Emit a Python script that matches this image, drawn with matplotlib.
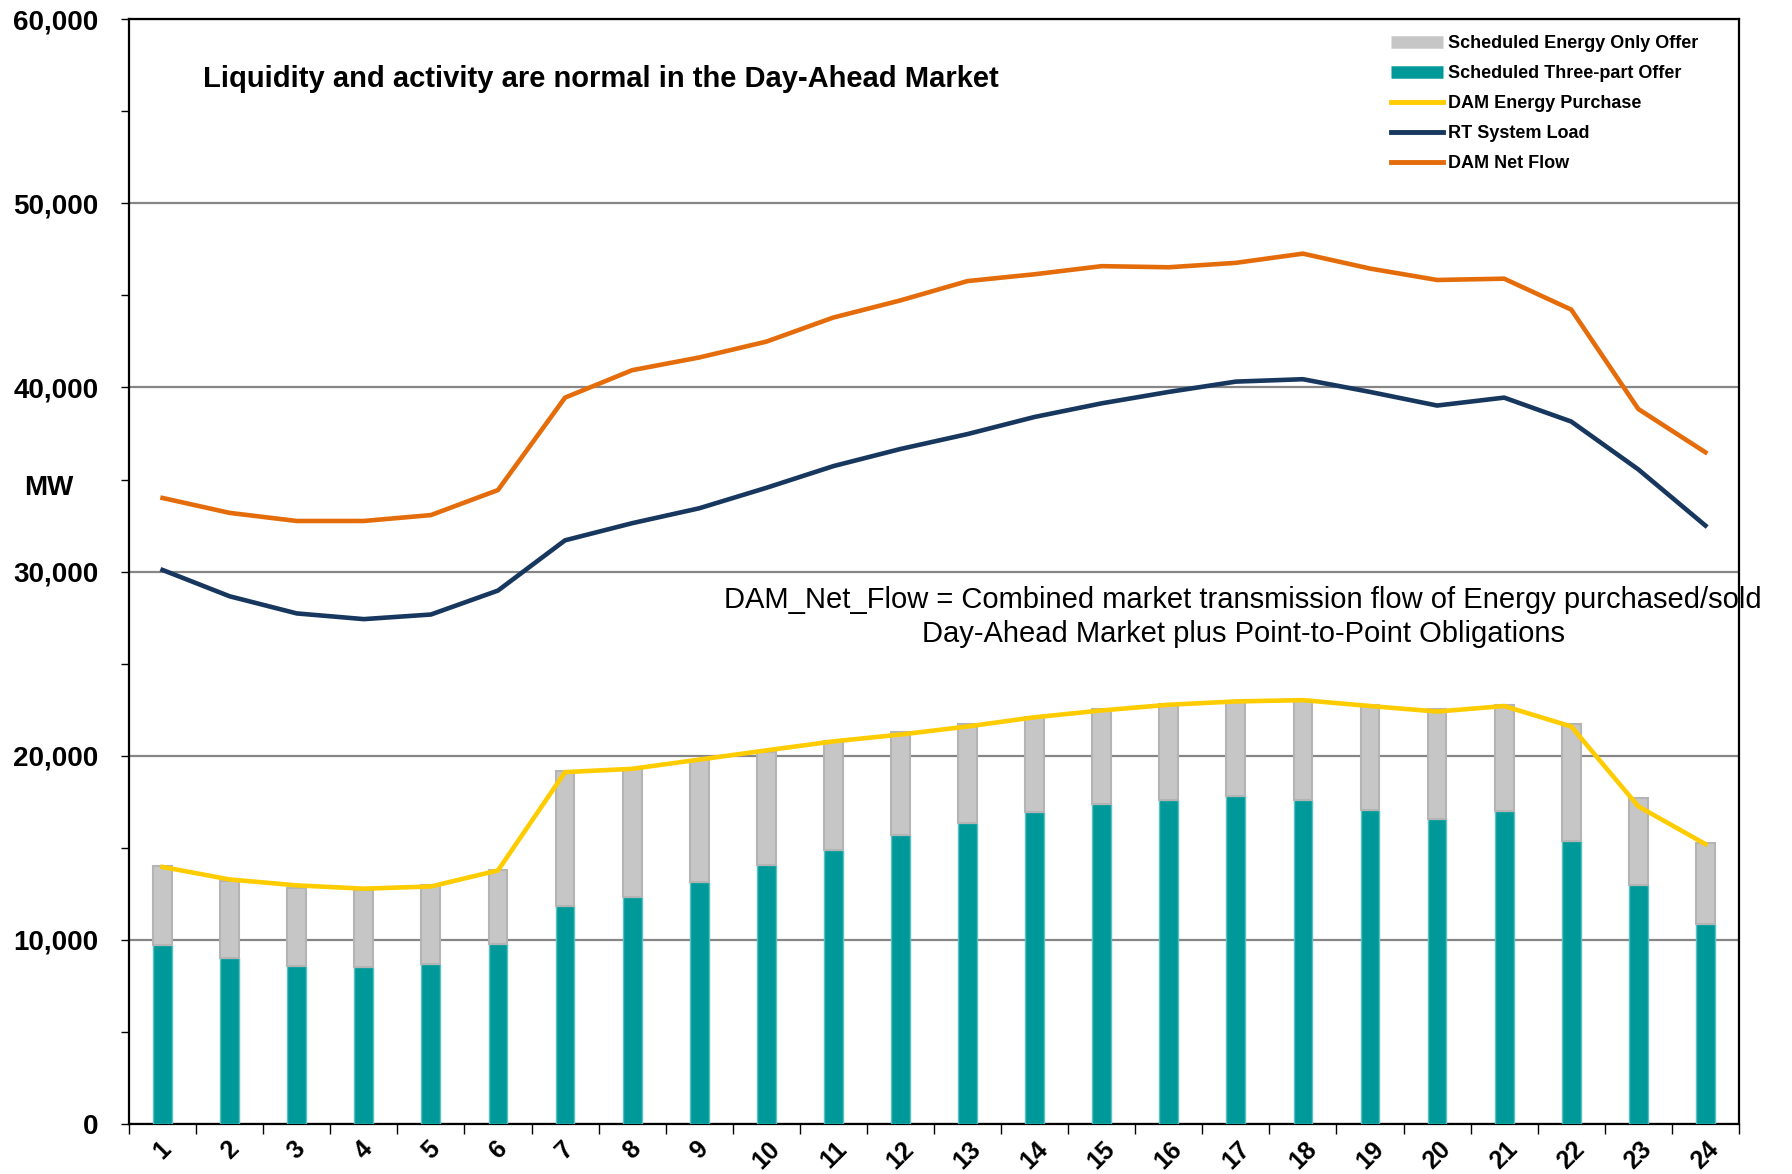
import numpy as np
import matplotlib.pyplot as plt
from matplotlib.lines import Line2D
from matplotlib.ticker import FuncFormatter, MultipleLocator

plt.rcParams['font.family'] = ['Liberation Sans', 'DejaVu Sans']

# Hour ending 1..24
hours = np.arange(1, 25)

# Scheduled offers (MW), stacked bars
three_part = [9740, 9000, 8560, 8500, 8690, 9800, 11850, 12350, 13150, 14080, 14890, 15700,
              16320, 16940, 17370, 17620, 17800, 17620, 17060, 16560, 17000, 15390, 12970, 10860]
energy_only = [4280, 4210, 4280, 4220, 4280, 3970, 7320, 6940, 6640, 6140, 5890, 5580,
               5390, 5150, 5150, 5210, 5150, 5400, 5710, 5960, 5770, 6320, 4710, 4400]

# Lines (MW)
dam_purchase = [13960, 13280, 12960, 12780, 12900, 13770, 19110, 19290, 19790, 20290, 20780, 21150,
                21590, 22090, 22460, 22770, 22950, 23020, 22700, 22400, 22700, 21590, 17250, 15200]
rt_load = [30090, 28660, 27730, 27420, 27670, 28970, 31700, 32630, 33440, 34550, 35730, 36660,
           37470, 38400, 39140, 39760, 40320, 40450, 39760, 39020, 39450, 38150, 35550, 32500]
dam_net_flow = [34000, 33190, 32750, 32750, 33070, 34430, 39450, 40940, 41630, 42490, 43800, 44730,
                45780, 46150, 46590, 46530, 46770, 47270, 46460, 45840, 45910, 44230, 38830, 36480]

teal = '#009999'
gray = '#c6c6c6'
yellow = '#ffcc00'
navy = '#17375e'
orange = '#e46c0a'

fig = plt.figure(figsize=(17.92, 11.74), dpi=100)
ax = fig.add_axes([0.072, 0.0426, 0.8984, 0.941])

# Stacked bars
ax.bar(hours, three_part, width=0.28, color=teal, edgecolor='#5cc0c0', linewidth=1, zorder=3)
ax.bar(hours, energy_only, width=0.28, bottom=three_part, color=gray, edgecolor='#b4b4b4',
       linewidth=1.5, zorder=3)

# Lines
ax.plot(hours, dam_purchase, color=yellow, lw=3.3, zorder=4)
ax.plot(hours, rt_load, color=navy, lw=3.3, zorder=4)
ax.plot(hours, dam_net_flow, color=orange, lw=3.3, zorder=4)

# Axes setup
ax.set_xlim(0.5, 24.5)
ax.set_ylim(0, 60000)
ax.yaxis.set_major_locator(MultipleLocator(10000))
ax.yaxis.set_minor_locator(MultipleLocator(5000))
ax.yaxis.set_major_formatter(FuncFormatter(lambda v, _: f'{int(v):,}'))
ax.grid(axis='y', which='major', color='#868686', lw=1.6, zorder=1)

ax.set_xticks(np.arange(0.5, 25, 1))
ax.set_xticklabels([])
ax.set_xticks(hours, minor=True)
ax.set_xticklabels([str(h) for h in hours], minor=True, rotation=45, fontsize=18,
                   fontweight='bold', ha='center', va='top')
ax.tick_params(axis='x', which='major', length=7, width=1, direction='out')
ax.tick_params(axis='x', which='minor', length=0, pad=9)
ax.tick_params(axis='y', which='both', length=6, width=1, direction='out', labelsize=20, pad=16)
for lbl in ax.get_yticklabels():
    lbl.set_fontweight('bold')

for sp in ax.spines.values():
    sp.set_linewidth(1.6)

# "MW" axis label
ax.text(-0.05, 0.576, 'MW', transform=ax.transAxes, fontsize=20, fontweight='bold',
        ha='center', va='center')

# Title inside the plot
ax.text(0.046, 0.946, 'Liquidity and activity are normal in the Day-Ahead Market',
        transform=ax.transAxes, fontsize=21, fontweight='bold', ha='left', va='center')

# Annotation
ax.text(0.692, 0.459, 'DAM_Net_Flow = Combined market transmission flow of Energy purchased/sold\n'
        'Day-Ahead Market plus Point-to-Point Obligations',
        transform=ax.transAxes, fontsize=21, ha='center', va='center', linespacing=1.3,
        clip_on=False)

# Legend
handles = [
    Line2D([], [], color=gray, lw=9, solid_capstyle='butt'),
    Line2D([], [], color=teal, lw=9, solid_capstyle='butt'),
    Line2D([], [], color=yellow, lw=3.5),
    Line2D([], [], color=navy, lw=3.5),
    Line2D([], [], color=orange, lw=3.5),
]
labels = ['Scheduled Energy Only Offer', 'Scheduled Three-part Offer', 'DAM Energy Purchase',
          'RT System Load', 'DAM Net Flow']
fig.legend(handles, labels, loc='upper left', bbox_to_anchor=(0.767, 0.984), frameon=False,
           prop={'size': 13, 'weight': 'bold'}, handlelength=2.9, handletextpad=0.25,
           labelspacing=0.72)

fig.savefig('out.png', dpi=100)
